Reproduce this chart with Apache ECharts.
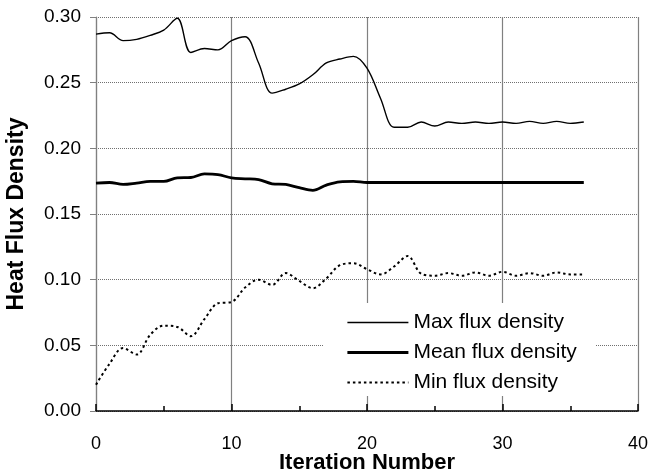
<!DOCTYPE html>
<html>
<head>
<meta charset="utf-8">
<script src="https://cdn.jsdelivr.net/npm/echarts@6/dist/echarts.min.js"></script>
<style>html,body{margin:0;padding:0;background:#fff}#c{width:650px;height:475px}</style>
</head>
<body>
<div id="c"></div>
<script>
const iterations = [0,1,2,3,4,5,6,7,8,9,10,11,12,13,14,15,16,17,18,19,20,21,22,23,24,25,26,27,28,29,30,31,32,33,34,35,36];
const maxFlux = [0.287,0.288,0.282,0.283,0.286,0.290,0.299,0.273,0.276,0.275,0.282,0.285,0.265,0.242,0.245,0.249,0.256,0.265,0.268,0.270,0.261,0.238,0.216,0.216,0.220,0.217,0.220,0.219,0.220,0.219,0.220,0.219,0.2205,0.219,0.2205,0.219,0.220];
const meanFlux = [0.1735,0.174,0.1725,0.1735,0.1748,0.1748,0.1775,0.1778,0.1805,0.180,0.1775,0.1768,0.1762,0.173,0.1725,0.170,0.168,0.172,0.1745,0.1748,0.174,0.174,0.174,0.174,0.174,0.174,0.174,0.174,0.174,0.174,0.174,0.174,0.174,0.174,0.174,0.174,0.174];
const minFlux = [0.020,0.036,0.048,0.043,0.058,0.065,0.064,0.057,0.070,0.082,0.083,0.094,0.100,0.096,0.105,0.099,0.0935,0.101,0.111,0.1125,0.108,0.104,0.110,0.118,0.1045,0.103,0.105,0.103,0.1055,0.103,0.106,0.103,0.105,0.103,0.1055,0.104,0.104];
const seriesNames = ['Max flux density','Mean flux density','Min flux density'];
const xTitle = 'Iteration Number';
const yTitle = 'Heat Flux Density';

const FONT = 'Liberation Sans, Arial, Helvetica, sans-serif';
const pairs = arr => iterations.map((x,i)=>[x,arr[i]]);
const lineStyles = [
  {color:'#000',width:1.4},
  {color:'#000',width:2.8},
  {color:'#000',width:2,type:[2.5,3]}
];

const chart = echarts.init(document.getElementById('c'), null, {renderer:'canvas'});
chart.setOption({
  animation:false,
  backgroundColor:'#fff',
  grid:{left:96,right:12,top:17,bottom:64,containLabel:false,outerBoundsMode:'none'},
  xAxis:{
    type:'value',min:0,max:40,interval:10,
    name:xTitle,nameLocation:'middle',nameGap:41,nameMoveOverlap:false,
    nameTextStyle:{fontFamily:FONT,fontSize:22,fontWeight:'bold',color:'#000'},
    axisLine:{show:true,onZero:false,lineStyle:{color:'#000',width:1.5}},
    axisTick:{show:true,inside:true,length:7,lineStyle:{color:'#000',width:1.5}},
    minorTick:{show:true,splitNumber:2,length:5,lineStyle:{color:'#000',width:1.5}},
    axisLabel:{fontFamily:FONT,fontSize:18,color:'#000',margin:24},
    splitLine:{show:true,lineStyle:{color:'#808080',width:1.2,type:'solid'}}
  },
  yAxis:{
    type:'value',min:0,max:0.30,interval:0.05,
    name:yTitle,nameLocation:'middle',nameGap:68,nameRotate:90,nameMoveOverlap:false,
    nameTextStyle:{fontFamily:FONT,fontSize:23,fontWeight:'bold',color:'#000'},
    axisLine:{show:true,lineStyle:{color:'#808080',width:1.2}},
    axisTick:{show:true,inside:false,length:6,lineStyle:{color:'#808080',width:1}},
    axisLabel:{fontFamily:FONT,fontSize:19,color:'#000',margin:15,formatter:v=>v.toFixed(2)},
    splitLine:{show:true,lineStyle:{color:'#707070',width:1,type:[1,1]}}
  },
  legend:{
    orient:'vertical',left:323,top:303,
    backgroundColor:'#fff',padding:[9,19,3,23],
    itemWidth:61,itemHeight:14,itemGap:9,
    itemStyle:{opacity:0},
    textStyle:{fontFamily:FONT,fontSize:21,color:'#000',lineHeight:20},
    data:seriesNames.map((n,i)=>({name:n,lineStyle:lineStyles[i]}))
  },
  series:seriesNames.map((n,i)=>({
    name:n,type:'line',smooth:0.35,symbol:'none',
    data:pairs([maxFlux,meanFlux,minFlux][i]),
    lineStyle:lineStyles[i],itemStyle:{color:'#000'}
  }))
});
</script>
</body>
</html>
